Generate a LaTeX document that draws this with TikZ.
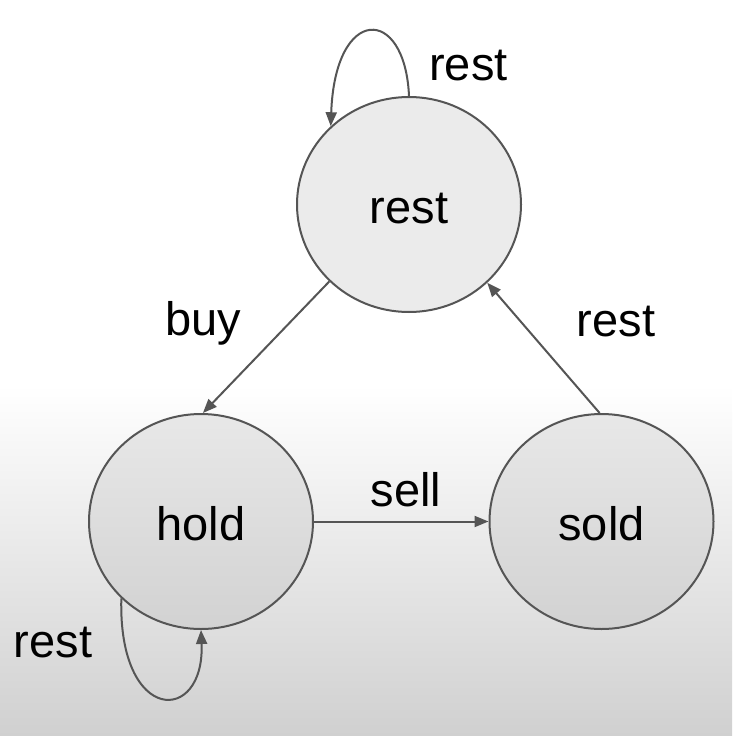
\documentclass[tikz,border=0pt]{standalone}
\usepackage{fontspec}
\setmainfont{Liberation Sans}
\usetikzlibrary{shapes.geometric,arrows.meta}
\definecolor{linegray}{RGB}{85,85,85}
\definecolor{bgbottom}{RGB}{208,208,208}
\definecolor{fillA}{RGB}{235,235,235}
\definecolor{fillTop}{RGB}{232,232,232}
\definecolor{fillBot}{RGB}{210,210,210}
\newcommand\biglbl{\fontsize{47}{56}\selectfont}
\tikzset{
  statenode/.style={ellipse, draw=linegray, line width=2pt, minimum width=224pt,
    minimum height=215pt, inner sep=0pt, font=\biglbl, text height=37pt, text depth=0pt},
  edgelbl/.style={font=\biglbl, anchor=base, inner sep=0pt},
  conn/.style={draw=linegray, line width=2pt, -{Triangle[length=14pt,width=11pt]}}
}
\begin{document}
\begin{tikzpicture}[x=1pt,y=-1pt]
\useasboundingbox (0,0) rectangle (732,736);
\fill[white] (0,0) rectangle (732,736);
\shade[top color=white, bottom color=bgbottom] (0,385) rectangle (732,736);

\node[statenode, fill=fillA] (rest) at (409,204.5) {rest};
\node[statenode, top color=fillTop, bottom color=fillBot] (hold) at (201,521.5) {hold};
\node[statenode, top color=fillTop, bottom color=fillBot] (sold) at (601.5,521.5) {sold};

\node[edgelbl] (lrest1) at (468.5,80) {rest};
\node[edgelbl] (lbuy) at (203,335) {buy};
\node[edgelbl] (lrest2) at (616,336) {rest};
\node[edgelbl] (lsell) at (406,506) {sell};
\node[edgelbl] (lrest3) at (53,657) {rest};

\draw[conn] (rest.90) .. controls (405,5) and (335,5) .. (rest.135.5);
\draw[conn] (hold.224) .. controls (118,725) and (205,725) .. (hold.270);
\draw[conn] (rest.224.5) -- (hold.89);
\draw[conn] (sold.91) -- (rest.-45);
\draw[conn] (hold.east) -- (sold.west);
\end{tikzpicture}
\end{document}
